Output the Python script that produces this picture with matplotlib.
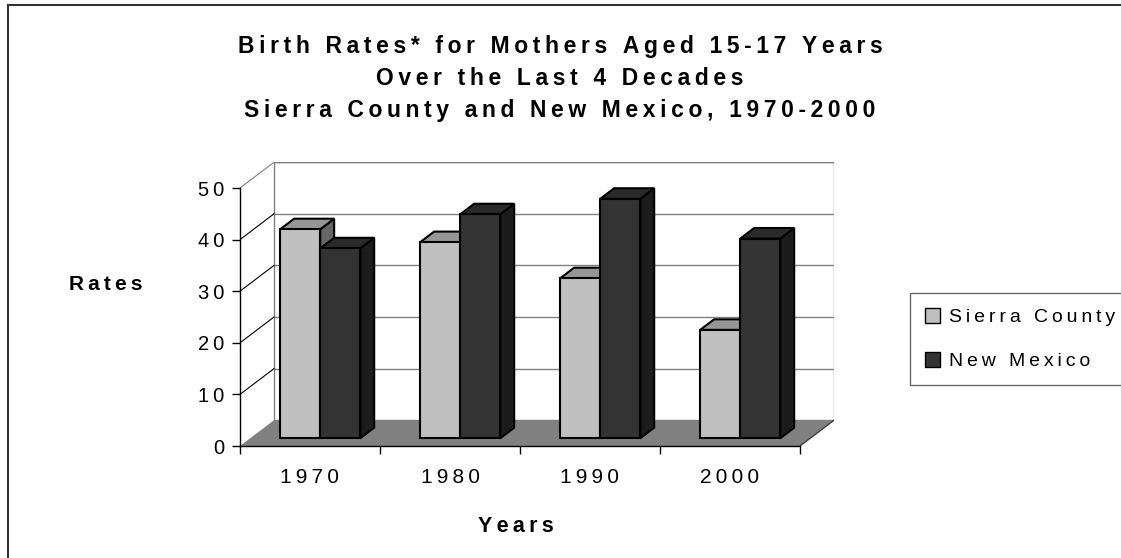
import matplotlib
matplotlib.use("Agg")
import matplotlib.pyplot as plt
from matplotlib.patches import Polygon, Patch
from matplotlib import font_manager

# data
years = ["1970", "1980", "1990", "2000"]
sierra = [40.5, 38.0, 31.0, 21.0]
new_mexico = [36.8, 43.4, 46.4, 38.7]
series_names = ["Sierra County", "New Mexico"]
yticks = [0, 10, 20, 30, 40, 50]

# font: narrow face if we have it
names = {f.name for f in font_manager.fontManager.ttflist}
FONT = "Liberation Sans Narrow" if "Liberation Sans Narrow" in names else "Liberation Sans"
plt.rcParams['font.family'] = [FONT, 'DejaVu Sans']


def spaced(s):
    # wide tracking like the original
    return "\u2009".join(s)


W, H = 1121, 558
fig = plt.figure(figsize=(W / 100, H / 100), dpi=100)

# 3d look: depth of the box in data units
DX, DY = 0.243, 5.0
YMAX = 50
n = len(years)

ax = fig.add_axes([240 / W, 112 / H, (n + DX) * 140 / W, (YMAX + DY) * 5.16 / H])
ax.set_xlim(0, n + DX)
ax.set_ylim(0, YMAX + DY)
ax.patch.set_alpha(0)

grid_c = "#808080"

# floor
ax.add_patch(Polygon([(0, 0), (n, 0), (n + DX, DY), (DX, DY)], closed=True,
                     facecolor="#808080", edgecolor="none", zorder=1))
ax.plot([n, n + DX], [0, DY], color="#404040", lw=1, zorder=2)
# back wall
ax.add_patch(Polygon([(DX, DY), (n + DX, DY), (n + DX, YMAX + DY), (DX, YMAX + DY)],
                     closed=True, facecolor="white", edgecolor=grid_c, lw=1, zorder=1))
for v in yticks[1:]:
    ax.plot([DX, n + DX], [DY + v, DY + v], color=grid_c, lw=1, zorder=1.5)
    ax.plot([0, DX], [v, DY + v], color="black" if v < YMAX else grid_c, lw=0.8, zorder=1.5)

# bars
f0, f1 = 0.30, 0.71
cols = [("#C0C0C0", "#969696", "#666666"), ("#333333", "#2a2a2a", "#1c1c1c")]
offsets = [0.214, 0.5]
bw = 0.286
z = 3
for i in range(n):
    for s, vals in enumerate([sierra, new_mexico]):
        v = vals[i]
        x0 = i + offsets[s] + f0 * DX
        y0 = f0 * DY
        ddx, ddy = (f1 - f0) * DX, (f1 - f0) * DY
        front, top, side = cols[s]
        kw = dict(closed=True, edgecolor="black", lw=1.5, joinstyle="miter", zorder=z)
        ax.add_patch(Polygon([(x0 + bw, y0), (x0 + bw + ddx, y0 + ddy),
                              (x0 + bw + ddx, y0 + ddy + v), (x0 + bw, y0 + v)],
                             facecolor=side, **kw))
        ax.add_patch(Polygon([(x0, y0 + v), (x0 + bw, y0 + v),
                              (x0 + bw + ddx, y0 + v + ddy), (x0 + ddx, y0 + v + ddy)],
                             facecolor=top, **kw))
        ax.add_patch(Polygon([(x0, y0), (x0 + bw, y0), (x0 + bw, y0 + v), (x0, y0 + v)],
                             facecolor=front, **kw))
        z += 1

# axes lines
for sp in ["top", "right"]:
    ax.spines[sp].set_visible(False)
ax.spines["left"].set_bounds(0, YMAX)
ax.spines["bottom"].set_bounds(0, n)
for sp in ["left", "bottom"]:
    ax.spines[sp].set_color("black")
    ax.spines[sp].set_linewidth(1)
    ax.spines[sp].set_zorder(50)

ax.set_yticks(yticks)
ax.set_yticklabels([spaced(str(t)) for t in yticks])
ax.set_xticks(range(n + 1))
ax.set_xticklabels([""] * (n + 1))
ax.set_xticks([i + 0.5 for i in range(n)], minor=True)
ax.set_xticklabels([spaced(y) for y in years], minor=True)
ax.tick_params(axis="y", direction="out", length=6, width=1, pad=5, labelsize=14.5)
ax.tick_params(axis="x", which="major", direction="out", length=6, width=1)
ax.tick_params(axis="x", which="minor", length=0, pad=16, labelsize=15)

# titles
title = ["Birth Rates* for Mothers Aged 15-17 Years",
         "Over the Last 4 Decades",
         "Sierra County and New Mexico, 1970-2000"]
for k, line in enumerate(title):
    fig.text(560 / W, 1 - (47 + 31.5 * k) / H, spaced(line), ha="center", va="center",
             fontsize=16.5, fontweight="bold")
fig.text(106 / W, 1 - 285 / H, spaced("Rates"), ha="center", va="center",
         fontsize=15, fontweight="bold")
fig.text(516 / W, 1 - 527 / H, spaced("Years"), ha="center", va="center",
         fontsize=15.5, fontweight="bold")

# legend
handles = [Patch(facecolor=cols[0][0], edgecolor="black"),
           Patch(facecolor=cols[1][0], edgecolor="black")]
leg = fig.legend(handles, [spaced(s) for s in series_names], loc="center left",
                 bbox_to_anchor=(910 / W, 1 - 339 / H), frameon=True, fancybox=False,
                 fontsize=14, handlelength=0.8, handleheight=0.8, handletextpad=0.45,
                 borderpad=0.75, labelspacing=1.35, borderaxespad=0)
leg.get_frame().set_edgecolor("#404040")
leg.get_frame().set_linewidth(1)

# outer frame
fig.add_artist(plt.Line2D([7.5 / W, 7.5 / W], [0, 1 - 4.5 / H], color="#333333", lw=1.5))
fig.add_artist(plt.Line2D([7.5 / W, 1], [1 - 4.5 / H, 1 - 4.5 / H], color="#333333", lw=1.5))

fig.savefig("out.png", dpi=100)
